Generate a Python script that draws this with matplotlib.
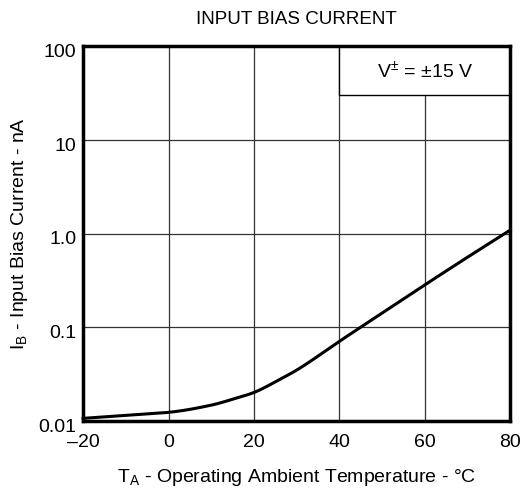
import matplotlib
matplotlib.use("Agg")
import matplotlib.pyplot as plt
import matplotlib.transforms as mtransforms
from matplotlib.patches import Rectangle
import numpy as np

plt.rcParams['font.family'] = ['Liberation Sans', 'DejaVu Sans']
plt.rcParams['mathtext.fontset'] = 'custom'
plt.rcParams['mathtext.rm'] = 'Liberation Sans'

temp_c = [-20, -10, 0, 10, 15, 20, 25, 30, 40, 50, 60, 70, 80]
bias_na = [0.0107, 0.0115, 0.0124, 0.0148, 0.0171, 0.0202, 0.0262, 0.0350, 0.071, 0.142, 0.284, 0.56, 1.09]

x_ticks = [-20, 0, 20, 40, 60, 80]
x_tick_labels = ['\u201320', '0', '20', '40', '60', '80']
y_ticks = [0.01, 0.1, 1, 10, 100]
y_tick_labels = ['0.01', '0.1', '1.0', '10', '100']


def pchip(x, y, xn):
    x = np.asarray(x, float); y = np.asarray(y, float)
    h = np.diff(x); d = np.diff(y) / h
    m = np.zeros_like(y)
    for k in range(1, len(y) - 1):
        if d[k-1] * d[k] > 0:
            w1 = 2*h[k] + h[k-1]; w2 = h[k] + 2*h[k-1]
            m[k] = (w1 + w2) / (w1/d[k-1] + w2/d[k])
    m[0] = d[0]; m[-1] = d[-1]
    out = np.empty_like(xn)
    idx = np.clip(np.searchsorted(x, xn) - 1, 0, len(x) - 2)
    for i, xv in enumerate(xn):
        k = idx[i]; t = (xv - x[k]) / h[k]
        h00 = 2*t**3 - 3*t**2 + 1; h10 = t**3 - 2*t**2 + t
        h01 = -2*t**3 + 3*t**2; h11 = t**3 - t**2
        out[i] = h00*y[k] + h10*h[k]*m[k] + h01*y[k+1] + h11*h[k]*m[k+1]
    return out


fig = plt.figure(figsize=(5.26, 4.96), dpi=100)
ax = fig.add_axes([0.158, 0.151, 0.812, 0.756])
ax.set_yscale('log')
ax.set_xlim(-20, 80)
ax.set_ylim(0.01, 100)

xs = np.linspace(-20, 80, 300)
ys = 10 ** pchip(temp_c, np.log10(bias_na), xs)
ax.plot(xs, ys, color='black', lw=2.2, zorder=4, clip_on=False)

ax.set_xticks(x_ticks)
ax.set_xticklabels(x_tick_labels)
ax.set_yticks(y_ticks)
ax.set_yticklabels(y_tick_labels)
ax.yaxis.set_minor_locator(matplotlib.ticker.NullLocator())
ax.tick_params(length=0, labelsize=14)
ax.tick_params(axis='x', pad=9)
ax.tick_params(axis='y', pad=5)
offset = mtransforms.ScaledTranslation(0, -3/72, fig.dpi_scale_trans)
for lab in ax.get_yticklabels():
    lab.set_transform(lab.get_transform() + offset)
ax.grid(True, which='major', color='#333333', lw=0.9)

for s in ax.spines.values():
    s.set_linewidth(2.5)
    s.set_zorder(5)

ax.add_patch(Rectangle((40, 30), 40, 70, facecolor='white', edgecolor='black',
                       lw=1.0, zorder=3))
ax.text(60, 55, 'V$^{\\pm}$ = \u00b115 V', ha='center', va='center', fontsize=14, zorder=4)

ax.set_title('INPUT BIAS CURRENT', fontsize=13.5, pad=16)
ax.set_xlabel('T$_{\\mathrm{A}}$ - Operating Ambient Temperature - \u00b0C', fontsize=14, labelpad=12)
ax.set_ylabel('I$_{\\mathrm{B}}$ - Input Bias Current - nA', fontsize=14, labelpad=6)

fig.savefig('out.png', dpi=100)
